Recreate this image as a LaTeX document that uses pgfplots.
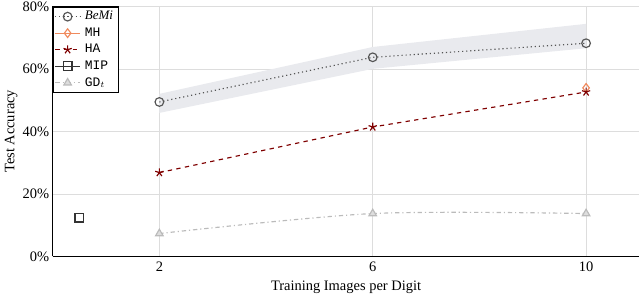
\documentclass[border=0pt]{standalone}
\usepackage{pgfplots}
\pgfplotsset{compat=1.18}
\usepackage{fontspec}
\setmainfont{Liberation Serif}
\setmonofont{Liberation Mono}
\definecolor{bemi}{HTML}{555555}
\definecolor{mh}{HTML}{F08A5D}
\definecolor{ha}{HTML}{7F0000}
\definecolor{gd}{HTML}{BBBBBB}
\definecolor{shade}{HTML}{E9EAEE}
\definecolor{gridc}{HTML}{DDDDDD}
\begin{document}
\begin{tikzpicture}
\begin{axis}[
  scale only axis,
  width=406pt, height=173pt,
  xmin=0, xmax=11, ymin=0, ymax=80,
  xtick={2,6,10}, ytick={0,20,40,60,80},
  yticklabel={\pgfmathprintnumber{\tick}\%},
  /pgf/number format/assume math mode=true,
  yticklabel style={inner sep=1pt, xshift=-1.3pt},
  axis lines*=left,
  axis line style={thick},
  grid=major,
  major grid style={gridc, thin},
  tick style={draw=none},
  xlabel={Training Images per Digit},
  ylabel={Test Accuracy},
  ylabel style={yshift=-1pt},
  legend style={at={(0,1)}, anchor=north west, draw=black, thick, font=\small,
    inner xsep=1pt, inner ysep=1pt, nodes={inner xsep=3pt, inner ysep=2pt}},
  legend cell align=left,
  clip=false,
]
\addplot[fill=shade, draw=none, forget plot] coordinates {(2,52) (6,67) (10,74.4) (10,66.6) (6,60) (2,45.9)} -- cycle;
\addplot[color=bemi, thick, dotted, mark=o, mark size=3pt, mark options={solid}] coordinates {(2,49.4) (6,63.7) (10,68.2)};
\addlegendentry{\textit{BeMi}}
\addplot[color=mh, thick, mark=diamond, mark size=3pt] coordinates {(10,53.9)};
\addlegendentry{\texttt{MH}}
\addplot[color=ha, thick, dashed, mark=star, mark size=3pt, mark options={solid}] coordinates {(2,26.8) (6,41.4) (10,52.6)};
\addlegendentry{\texttt{HA}}
\addplot[color=black!80, thick, mark=square, mark size=3pt] coordinates {(0.5,12.4)};
\addlegendentry{\texttt{MIP}}
\addplot[color=gd, thick, dashdotted, smooth, mark=triangle*, mark size=3pt, mark options={solid, fill=gd!50}] coordinates {(2,7.3) (6,13.7) (10,13.7)};
\addlegendentry{\texttt{GD}$_t$}
\end{axis}
\end{tikzpicture}
\end{document}
